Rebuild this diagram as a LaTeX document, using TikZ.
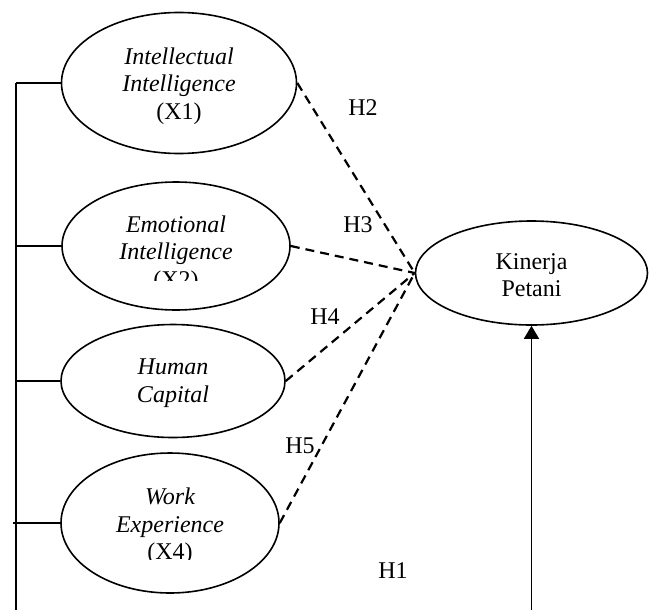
\documentclass[tikz,border=0pt]{standalone}
\usepackage{fontspec}
\setmainfont{Liberation Serif}
\usetikzlibrary{arrows.meta, shapes.geometric}

\tikzset{
  varshape/.style={draw, ellipse, inner sep=0pt},
  vartext/.style={align=center, inner sep=0pt, font=\fontsize{12}{13.8}\selectfont\itshape},
  hyp/.style={line width=1.1pt, dash pattern=on 4.5pt off 3pt},
  hlabel/.style={inner sep=0pt, font=\fontsize{12}{13.8}\selectfont},
}

\begin{document}
\begin{tikzpicture}[x=0.5pt, y=-0.5pt, line width=0.8pt]
  \useasboundingbox (0,0) rectangle (656,610);

  % variabel bebas (X1 - X4)
  \node[varshape, minimum width=117.5pt, minimum height=70.5pt] (x1) at (179,83) {};
  \node[vartext] (t1) at (179,86) {Intellectual\\Intelligence\\\textup{(X1)}};

  \node[varshape, minimum width=114pt, minimum height=64pt] (x2) at (176,246) {};
  \begin{scope}
    \clip (60,180) rectangle (300,280);
    \node[vartext] (t2) at (176,254) {Emotional\\Intelligence\\\textup{(X2)}};
  \end{scope}

  \node[varshape, minimum width=112pt, minimum height=56.5pt] (x3) at (173,381) {};
  \node[vartext] (t3) at (173,383) {Human\\Capital};

  \node[varshape, minimum width=109pt, minimum height=70pt] (x4) at (170,523) {};
  \begin{scope}
    \clip (60,450) rectangle (300,559);
    \node[vartext] (t4) at (170,526.5) {Work\\Experience\\\textup{(X4)}};
  \end{scope}

  % variabel terikat
  \node[varshape, minimum width=116pt, minimum height=52pt] (kp) at (531.5,273) {};
  \node[vartext, font=\fontsize{12}{13.8}\selectfont] (tk) at (531.5,275.3) {Kinerja\\Petani};

  % garis kiri (simultan)
  \coordinate (spinetop) at (16,83);
  \coordinate (spinebot) at (16,610);
  \coordinate (stub4) at (13,523);
  \draw (spinetop) -- (spinebot);
  \draw (x1.west) -- (x1.west -| spinetop);
  \draw (x2.west) -- (x2.west -| spinetop);
  \draw (x3.west) -- (x3.west -| spinetop);
  \draw (stub4) -- (x4.west);

  % hipotesis parsial
  \foreach \v in {x1,x2,x3,x4}
    \draw[hyp] (\v.east) -- (kp.west);

  % panah H1
  \coordinate (arrowfoot) at (531.5,610);
  \draw[-{Triangle[length=6.5pt,width=7.5pt]}] (arrowfoot) -- (kp.south);

  % label
  \node[hlabel] (h2) at (363,108) {H2};
  \node[hlabel] (h3) at (358,225) {H3};
  \node[hlabel] (h4) at (325,317) {H4};
  \node[hlabel] (h5) at (300,446) {H5};
  \node[hlabel] (h1) at (393,571) {H1};
\end{tikzpicture}
\end{document}
